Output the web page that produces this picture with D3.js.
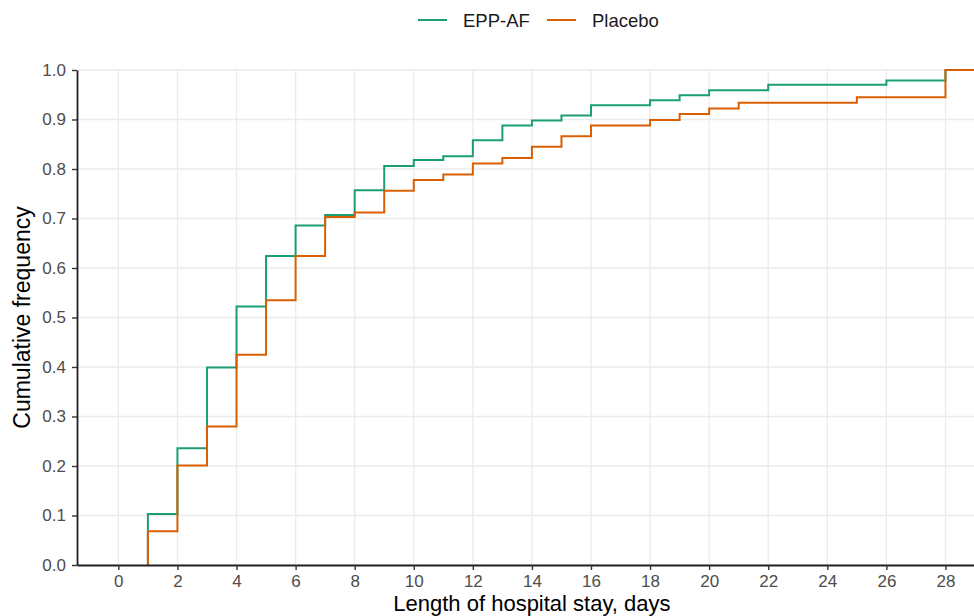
<!DOCTYPE html>
<html>
<head>
<meta charset="utf-8">
<script src="https://cdn.jsdelivr.net/npm/d3@7"></script>
<style>
  body { margin: 0; background: #fff; }
  svg { display: block; font-family: "Liberation Sans", Arial, sans-serif; }
</style>
</head>
<body>
<div id="chart"></div>
<script>
// step points of the cumulative curves (day, cumulative frequency)
var eppDays = [1, 2, 3, 4, 5, 6, 7, 8, 9, 10, 11, 12, 13, 14, 15, 16, 18, 19, 20, 22, 26, 28];
var eppCum  = [0.103, 0.236, 0.399, 0.522, 0.624, 0.686, 0.707, 0.757, 0.806, 0.818, 0.826, 0.858,
               0.888, 0.898, 0.908, 0.929, 0.939, 0.949, 0.959, 0.970, 0.979, 1.0];

var placeboDays = [1, 2, 3, 4, 5, 6, 7, 8, 9, 10, 11, 12, 13, 14, 15, 16, 18, 19, 20, 21, 25, 28];
var placeboCum  = [0.068, 0.201, 0.280, 0.425, 0.535, 0.624, 0.703, 0.712, 0.756, 0.778, 0.789, 0.811,
                   0.822, 0.845, 0.866, 0.888, 0.899, 0.911, 0.922, 0.934, 0.945, 1.0];

var seriesNames = ["EPP-AF", "Placebo"];
var seriesColors = ["#1b9e77", "#d95f02"];

var xTicks = d3.range(0, 29, 2);
var yTicks = d3.range(0, 11).map(function(i) { return i / 10; });

var W = 974, H = 616;
var margin = {top: 70, left: 77, bottom: 51};
var height = H - margin.top - margin.bottom;

// x range runs past the right edge of the picture, like the original
var x = d3.scaleLinear()
    .domain([-1.4, 29.4])
    .range([margin.left, margin.left + 30.8 * 29.54]);

var y = d3.scaleLinear()
    .domain([0, 1])
    .range([margin.top + height, margin.top]);

var svg = d3.select("#chart").append("svg")
    .attr("width", W)
    .attr("height", H);

// grid
svg.append("g").selectAll("line")
    .data(yTicks).enter().append("line")
    .attr("x1", x.range()[0]).attr("x2", x.range()[1])
    .attr("y1", function(d) { return y(d); })
    .attr("y2", function(d) { return y(d); })
    .attr("stroke", "#ebebeb").attr("stroke-width", 1.3);

svg.append("g").selectAll("line")
    .data(xTicks).enter().append("line")
    .attr("x1", function(d) { return x(d); })
    .attr("x2", function(d) { return x(d); })
    .attr("y1", y(0)).attr("y2", y(1))
    .attr("stroke", "#ebebeb").attr("stroke-width", 1.3);

// step lines
function stepData(days, cum) {
    var pts = [[days[0], 0]];
    for (var i = 0; i < days.length; i++) pts.push([days[i], cum[i]]);
    pts.push([x.domain()[1], cum[cum.length - 1]]);
    return pts;
}

var line = d3.line()
    .x(function(d) { return x(d[0]); })
    .y(function(d) { return y(d[1]); })
    .curve(d3.curveStepAfter);

var series = [stepData(eppDays, eppCum), stepData(placeboDays, placeboCum)];

svg.append("g").selectAll("path")
    .data(series).enter().append("path")
    .attr("d", line)
    .attr("fill", "none")
    .attr("stroke", function(d, i) { return seriesColors[i]; })
    .attr("stroke-width", 2);

// axes
var xAxis = svg.append("g")
    .attr("transform", "translate(0," + y(0) + ")")
    .call(d3.axisBottom(x).tickValues(xTicks).tickSize(5).tickPadding(5).tickSizeOuter(0));

var yAxis = svg.append("g")
    .attr("transform", "translate(" + margin.left + ",0)")
    .call(d3.axisLeft(y).tickValues(yTicks).tickSize(5).tickPadding(6).tickSizeOuter(0)
        .tickFormat(d3.format(".1f")));

[xAxis, yAxis].forEach(function(a) {
    a.select(".domain").attr("stroke", "#222").attr("stroke-width", 1.8);
    a.selectAll(".tick line").attr("stroke", "#333").attr("stroke-width", 1.4);
    a.selectAll(".tick text")
        .attr("fill", "#4d4d4d")
        .style("font-size", "17px")
        .style("font-family", "'Liberation Sans', Arial, sans-serif");
});

// axis titles
svg.append("text")
    .attr("x", (x.range()[0] + x.range()[1]) / 2)
    .attr("y", 611)
    .attr("text-anchor", "middle")
    .style("font-size", "22px")
    .attr("fill", "#000")
    .text("Length of hospital stay, days");

svg.append("text")
    .attr("transform", "translate(29.5," + (margin.top + height / 2) + ") rotate(-90)")
    .attr("text-anchor", "middle")
    .style("font-size", "23px")
    .attr("fill", "#000")
    .text("Cumulative frequency");

// legend
var legendX = [418, 547];
var legend = svg.append("g").selectAll("g")
    .data(seriesNames).enter().append("g")
    .attr("transform", function(d, i) { return "translate(" + legendX[i] + ",20)"; });

legend.append("line")
    .attr("x1", 0).attr("x2", 29)
    .attr("stroke", function(d, i) { return seriesColors[i]; })
    .attr("stroke-width", 2);

legend.append("text")
    .attr("x", 45)
    .attr("y", 6.5)
    .style("font-size", "18.5px")
    .attr("fill", "#1a1a1a")
    .text(function(d) { return d; });
</script>
</body>
</html>
